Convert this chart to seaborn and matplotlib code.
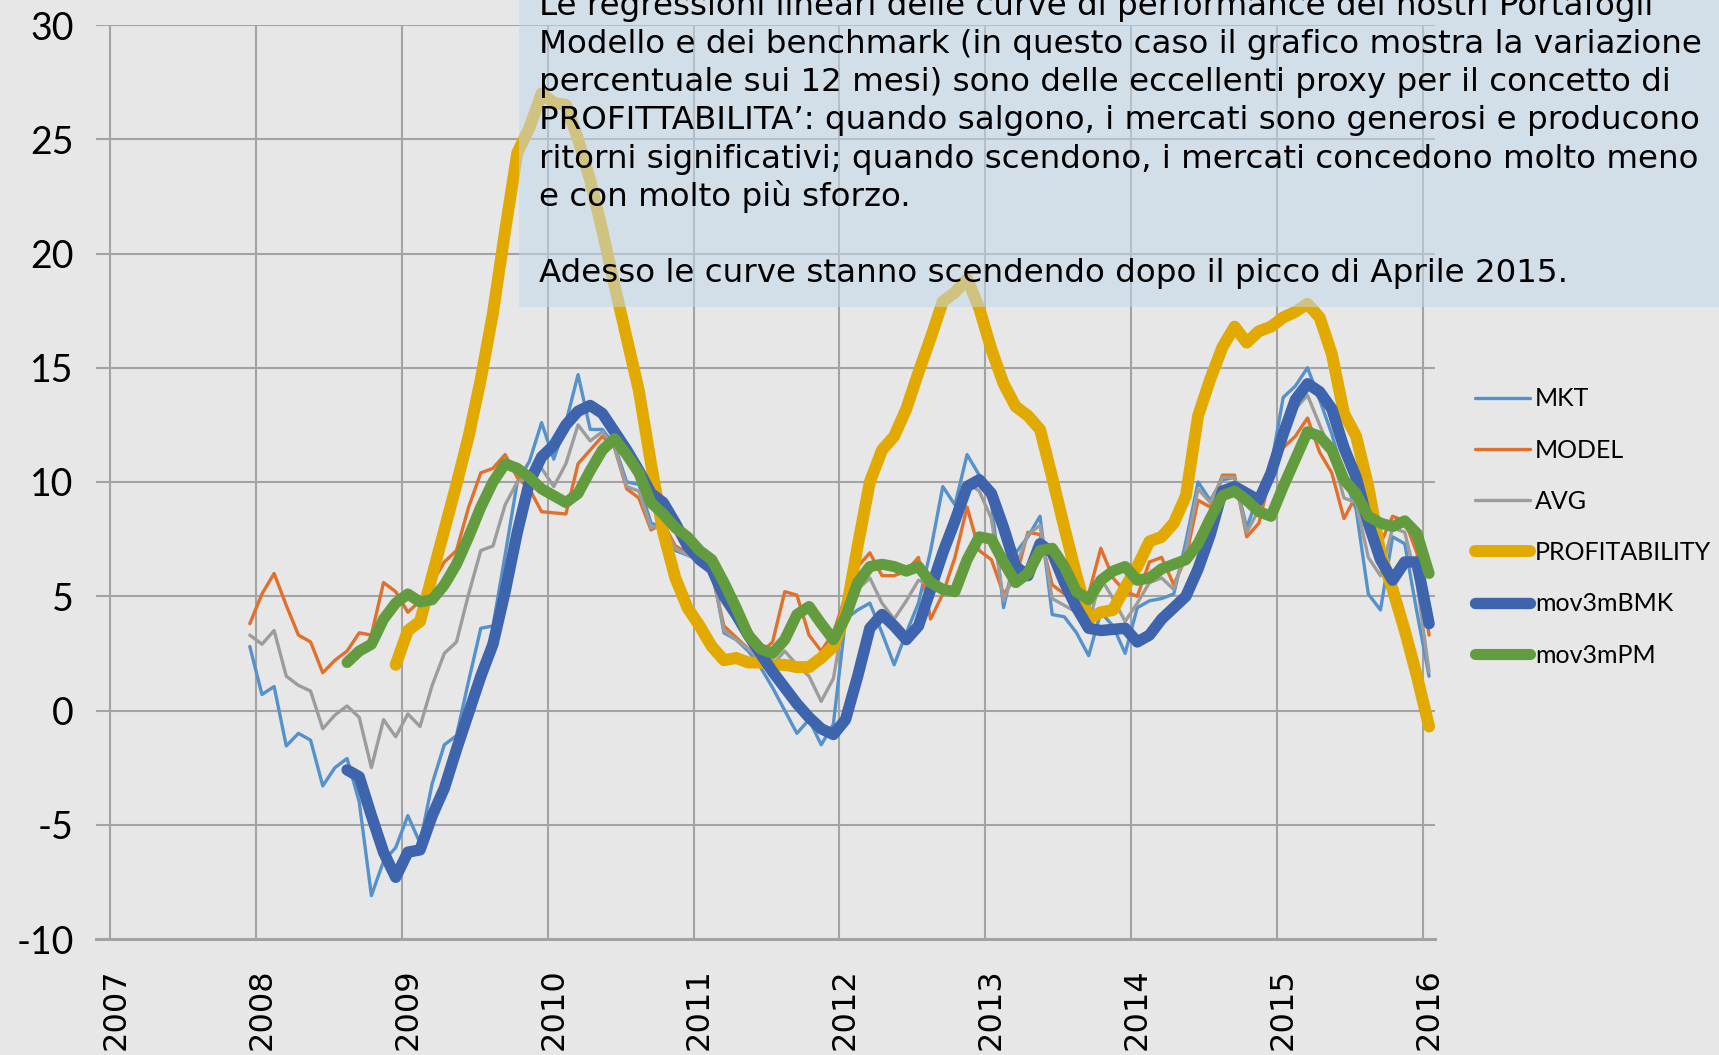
import numpy as np
import pandas as pd
import matplotlib
matplotlib.use("Agg")
import matplotlib.pyplot as plt
import matplotlib.transforms as mtransforms
from matplotlib.patches import Rectangle
import seaborn as sns

# ---------------- data (monthly, Dec 2007 .. Jan 2016) ----------------
months = pd.date_range("2007-12-01", periods=98, freq="MS")

mkt = [2.8, 0.7, 1.05, -1.55, -1.0, -1.3, -3.3, -2.5, -2.1, -4.0,
       -8.1, -6.6, -6.0, -4.6, -5.8, -3.2, -1.5, -1.1, 1.3, 3.6,
       3.7, 6.8, 10.0, 10.9, 12.6, 11.0, 12.6, 14.7, 12.3, 12.3,
       11.6, 10.0, 9.9, 8.2, 8.0, 7.0, 6.8, 6.6, 6.3, 3.4,
       3.1, 2.6, 1.9, 1.0, 0.0, -1.0, -0.4, -1.5, -0.6, 4.0,
       4.4, 4.7, 3.4, 2.0, 3.4, 4.7, 7.0, 9.8, 9.0, 11.2,
       10.3, 9.1, 4.5, 6.9, 7.6, 8.5, 4.2, 4.1, 3.4, 2.4,
       4.3, 3.7, 2.5, 4.5, 4.8, 4.9, 5.1, 7.4, 10.0, 9.2,
       10.1, 10.2, 8.0, 9.5, 10.7, 13.7, 14.2, 15.0, 13.6, 12.1,
       10.2, 8.8, 5.1, 4.4, 7.6, 7.3, 4.3, 1.5]

model = [3.8, 5.1, 6.0, 4.6, 3.3, 3.0, 1.65, 2.2, 2.6, 3.4,
         3.3, 5.6, 5.2, 4.3, 4.8, 5.6, 6.5, 7.0, 8.9, 10.4,
         10.6, 11.2, 10.2, 9.7, 8.7, 8.65, 8.6, 10.8, 11.4, 12.0,
         11.5, 9.7, 9.3, 7.9, 8.2, 7.2, 6.9, 6.7, 6.0, 3.7,
         3.2, 2.7, 2.5, 3.0, 5.2, 5.05, 3.3, 2.6, 3.4, 5.0,
         6.3, 6.9, 5.9, 5.9, 6.1, 6.7, 4.0, 5.1, 6.7, 8.9,
         7.0, 6.6, 5.1, 5.8, 7.8, 7.7, 5.5, 5.1, 5.4, 5.1,
         7.1, 5.8, 5.2, 5.0, 6.5, 6.7, 5.5, 6.7, 9.2, 8.9,
         10.3, 10.3, 7.6, 8.2, 10.4, 11.5, 12.0, 12.8, 11.3, 10.4,
         8.4, 9.4, 8.3, 7.3, 8.5, 8.3, 6.9, 3.3]

avg = [3.3, 2.9, 3.5, 1.5, 1.1, 0.85, -0.8, -0.2, 0.2, -0.3,
       -2.5, -0.4, -1.15, -0.15, -0.7, 1.1, 2.5, 3.0, 5.1, 7.0,
       7.2, 9.0, 10.0, 10.3, 10.6, 9.8, 10.8, 12.5, 11.8, 12.2,
       11.5, 9.8, 9.6, 8.0, 8.1, 7.1, 6.8, 6.6, 6.2, 3.5,
       3.1, 2.7, 2.2, 2.0, 2.6, 2.0, 1.5, 0.4, 1.4, 4.5,
       5.3, 5.8, 4.7, 4.0, 4.8, 5.7, 5.5, 7.4, 7.8, 10.0,
       9.6, 8.4, 4.8, 6.3, 7.7, 8.1, 4.9, 4.6, 4.3, 3.8,
       5.8, 4.9, 3.9, 4.7, 5.6, 5.8, 5.3, 7.0, 9.7, 9.1,
       10.2, 10.2, 7.8, 8.8, 10.5, 12.6, 13.2, 13.8, 12.5, 11.2,
       9.3, 9.1, 6.7, 5.9, 8.0, 7.8, 5.6, 1.7]

nan = np.nan
profitability = [nan] * 12 + [
    2.0, 3.5, 3.9, 5.9, 7.9, 9.9, 12.0, 14.5,
    17.4, 21.0, 24.4, 25.5, 27.0, 26.6, 26.5, 25.0, 23.2, 21.0,
    18.6, 16.3, 14.0, 10.8, 7.8, 5.8, 4.5, 3.7, 2.8, 2.2,
    2.3, 2.1, 2.1, 2.0, 2.0, 1.9, 1.9, 2.3, 2.8, 4.2,
    7.2, 10.0, 11.4, 12.0, 13.2, 14.8, 16.3, 17.9, 18.3, 18.9,
    17.6, 15.8, 14.3, 13.3, 12.9, 12.3, 10.2, 8.0, 5.9, 4.0,
    4.3, 4.4, 5.4, 6.3, 7.4, 7.6, 8.2, 9.4, 12.9, 14.5,
    15.9, 16.8, 16.1, 16.6, 16.8, 17.2, 17.45, 17.8, 17.2, 15.6,
    13.0, 12.0, 9.8, 6.9, 5.3, 3.5, 1.5, -0.7]

mov3m_bmk = [nan] * 8 + [
    -2.6, -2.9,
    -4.6, -6.2, -7.3, -6.2, -6.1, -4.6, -3.4, -1.7, -0.1, 1.5,
    2.9, 5.2, 7.8, 10.0, 11.1, 11.6, 12.5, 13.1, 13.35, 13.0,
    12.2, 11.4, 10.5, 9.5, 9.1, 8.2, 7.2, 6.6, 6.2, 5.0,
    4.2, 3.3, 2.5, 1.7, 1.0, 0.3, -0.3, -0.8, -1.05, -0.4,
    1.5, 3.6, 4.2, 3.7, 3.1, 3.7, 5.3, 6.9, 8.3, 9.8,
    10.1, 9.5, 8.0, 6.3, 5.9, 7.3, 6.9, 5.6, 4.5, 3.6,
    3.5, 3.55, 3.6, 3.0, 3.3, 4.0, 4.5, 5.0, 6.2, 7.7,
    9.6, 9.8, 9.5, 9.2, 10.4, 12.1, 13.6, 14.3, 13.95, 13.2,
    11.5, 10.2, 8.2, 6.6, 5.7, 6.5, 6.5, 3.8]

mov3m_pm = [nan] * 8 + [
    2.1, 2.6,
    2.9, 4.0, 4.7, 5.1, 4.75, 4.85, 5.5, 6.4, 7.6, 8.9,
    10.0, 10.8, 10.6, 10.2, 9.7, 9.4, 9.1, 9.5, 10.5, 11.4,
    11.9, 11.2, 10.4, 9.1, 8.6, 8.0, 7.6, 7.0, 6.6, 5.6,
    4.5, 3.3, 2.7, 2.5, 3.1, 4.2, 4.55, 3.8, 3.1, 4.1,
    5.6, 6.3, 6.4, 6.3, 6.1, 6.3, 5.6, 5.3, 5.2, 6.6,
    7.6, 7.5, 6.5, 5.6, 6.0, 7.0, 7.1, 6.3, 5.2, 4.85,
    5.7, 6.1, 6.3, 5.7, 5.8, 6.2, 6.4, 6.6, 7.3, 8.4,
    9.4, 9.6, 9.2, 8.7, 8.5, 9.8, 11.0, 12.2, 12.0, 11.4,
    10.1, 9.5, 8.5, 8.2, 8.05, 8.3, 7.75, 6.0]

series_names = ["MKT", "MODEL", "AVG", "PROFITABILITY", "mov3mBMK", "mov3mPM"]
series_values = [mkt, model, avg, profitability, mov3m_bmk, mov3m_pm]

year_ticks = list(range(2007, 2017))
y_ticks = list(range(-10, 31, 5))

note_lines = [
    "Le regressioni lineari delle curve di performance dei nostri Portafogli",
    "Modello e dei benchmark (in questo caso il grafico mostra la variazione",
    "percentuale sui 12 mesi) sono delle eccellenti proxy per il concetto di",
    "PROFITTABILITA’: quando salgono, i mercati sono generosi e producono",
    "ritorni significativi; quando scendono, i mercati concedono molto meno",
    "e con molto più sforzo.",
    "",
    "Adesso le curve stanno scendendo dopo il picco di Aprile 2015.",
]

# ---------------- styles ----------------
colors = {"MKT": "#5592cc", "MODEL": "#e0702c", "AVG": "#9c9c9c",
          "PROFITABILITY": "#e2aa00", "mov3mBMK": "#3e64ae", "mov3mPM": "#629c3f"}
widths = {"MKT": 2.4, "MODEL": 2.4, "AVG": 2.4,
          "PROFITABILITY": 8.6, "mov3mBMK": 8.2, "mov3mPM": 8.0}

BG = "#e7e7e7"
GRID = "#a3a3a3"

sns.set_theme(style="whitegrid", rc={
    "axes.facecolor": BG, "figure.facecolor": BG,
    "grid.color": GRID, "grid.linewidth": 1.5,
    "axes.edgecolor": GRID,
    "text.color": "black", "xtick.color": "black", "ytick.color": "black",
})
plt.rcParams["font.family"] = ["Lato", "DejaVu Sans"]
plt.rcParams["axes.unicode_minus"] = False

W, H = 1719, 1055
fig = plt.figure(figsize=(W / 100, H / 100), dpi=100)
ax = fig.add_axes([96 / W, 1 - 939 / H, (1435 - 96) / W, (939 - 25) / H])

x_dec = months.year + (months.month - 0.5) / 12.0

for name, vals in zip(series_names, series_values):
    v = np.asarray(vals, dtype=float)
    m = ~np.isnan(v)
    sns.lineplot(x=np.asarray(x_dec)[m], y=v[m], ax=ax, color=colors[name],
                 linewidth=widths[name], label=name, sort=False, estimator=None,
                 solid_capstyle="round", solid_joinstyle="round")

ax.set_xlim(2007 - 14 / 145.9, 2016 + 12 / 145.9)
ax.set_ylim(-10, 30)
ax.set_xticks(year_ticks)
ax.set_xticklabels([str(y) for y in year_ticks], rotation=90,
                   fontsize=23, family=["DejaVu Sans"], va="top", ha="center",
                   color="black")
ax.set_yticks(y_ticks)
ax.set_yticklabels([str(v) for v in y_ticks], fontsize=27, color="black")
ax.tick_params(axis="x", length=0, pad=21)
ax.tick_params(axis="y", length=0, pad=16)
ax.grid(True, color=GRID, linewidth=1.5)
for s in ["top", "right", "left"]:
    ax.spines[s].set_visible(False)
ax.spines["bottom"].set_color(GRID)
ax.spines["bottom"].set_linewidth(2.2)
ax.set_xlabel("")
ax.set_ylabel("")

offset = mtransforms.ScaledTranslation(6 / 100, 0, fig.dpi_scale_trans)
for lbl in ax.get_xticklabels():
    lbl.set_transform(lbl.get_transform() + offset)

handles, labels = ax.get_legend_handles_labels()
leg = ax.legend(handles, labels, loc="center left", bbox_to_anchor=(1475 / W, 1 - 527 / H),
                bbox_transform=fig.transFigure, frameon=False, fontsize=18,
                handlelength=2.2, handletextpad=0.2, labelspacing=1.13,
                borderpad=0, borderaxespad=0)
for t in leg.get_texts():
    t.set_color("black")

# ---------------- annotation box ----------------
box = Rectangle((519 / W, 1 - 307 / H), 1 - 519 / W, 307 / H, transform=fig.transFigure,
                facecolor="#c2d8ea", alpha=0.55, edgecolor="none", zorder=10)
fig.add_artist(box)

renderer = fig.canvas.get_renderer()
probe = fig.text(0, 0, note_lines[3], fontsize=20, family=["DejaVu Sans"])
w = probe.get_window_extent(renderer).width
probe.remove()
fs = 20 * 1158 / w

for i, line in enumerate(note_lines):
    if not line:
        continue
    yb = 15 + 38.14 * i
    fig.text(539 / W, 1 - yb / H, line, fontsize=fs, family=["DejaVu Sans"],
             color="black", va="baseline", ha="left", zorder=11)

fig.savefig("out.png", dpi=100, facecolor=BG)
